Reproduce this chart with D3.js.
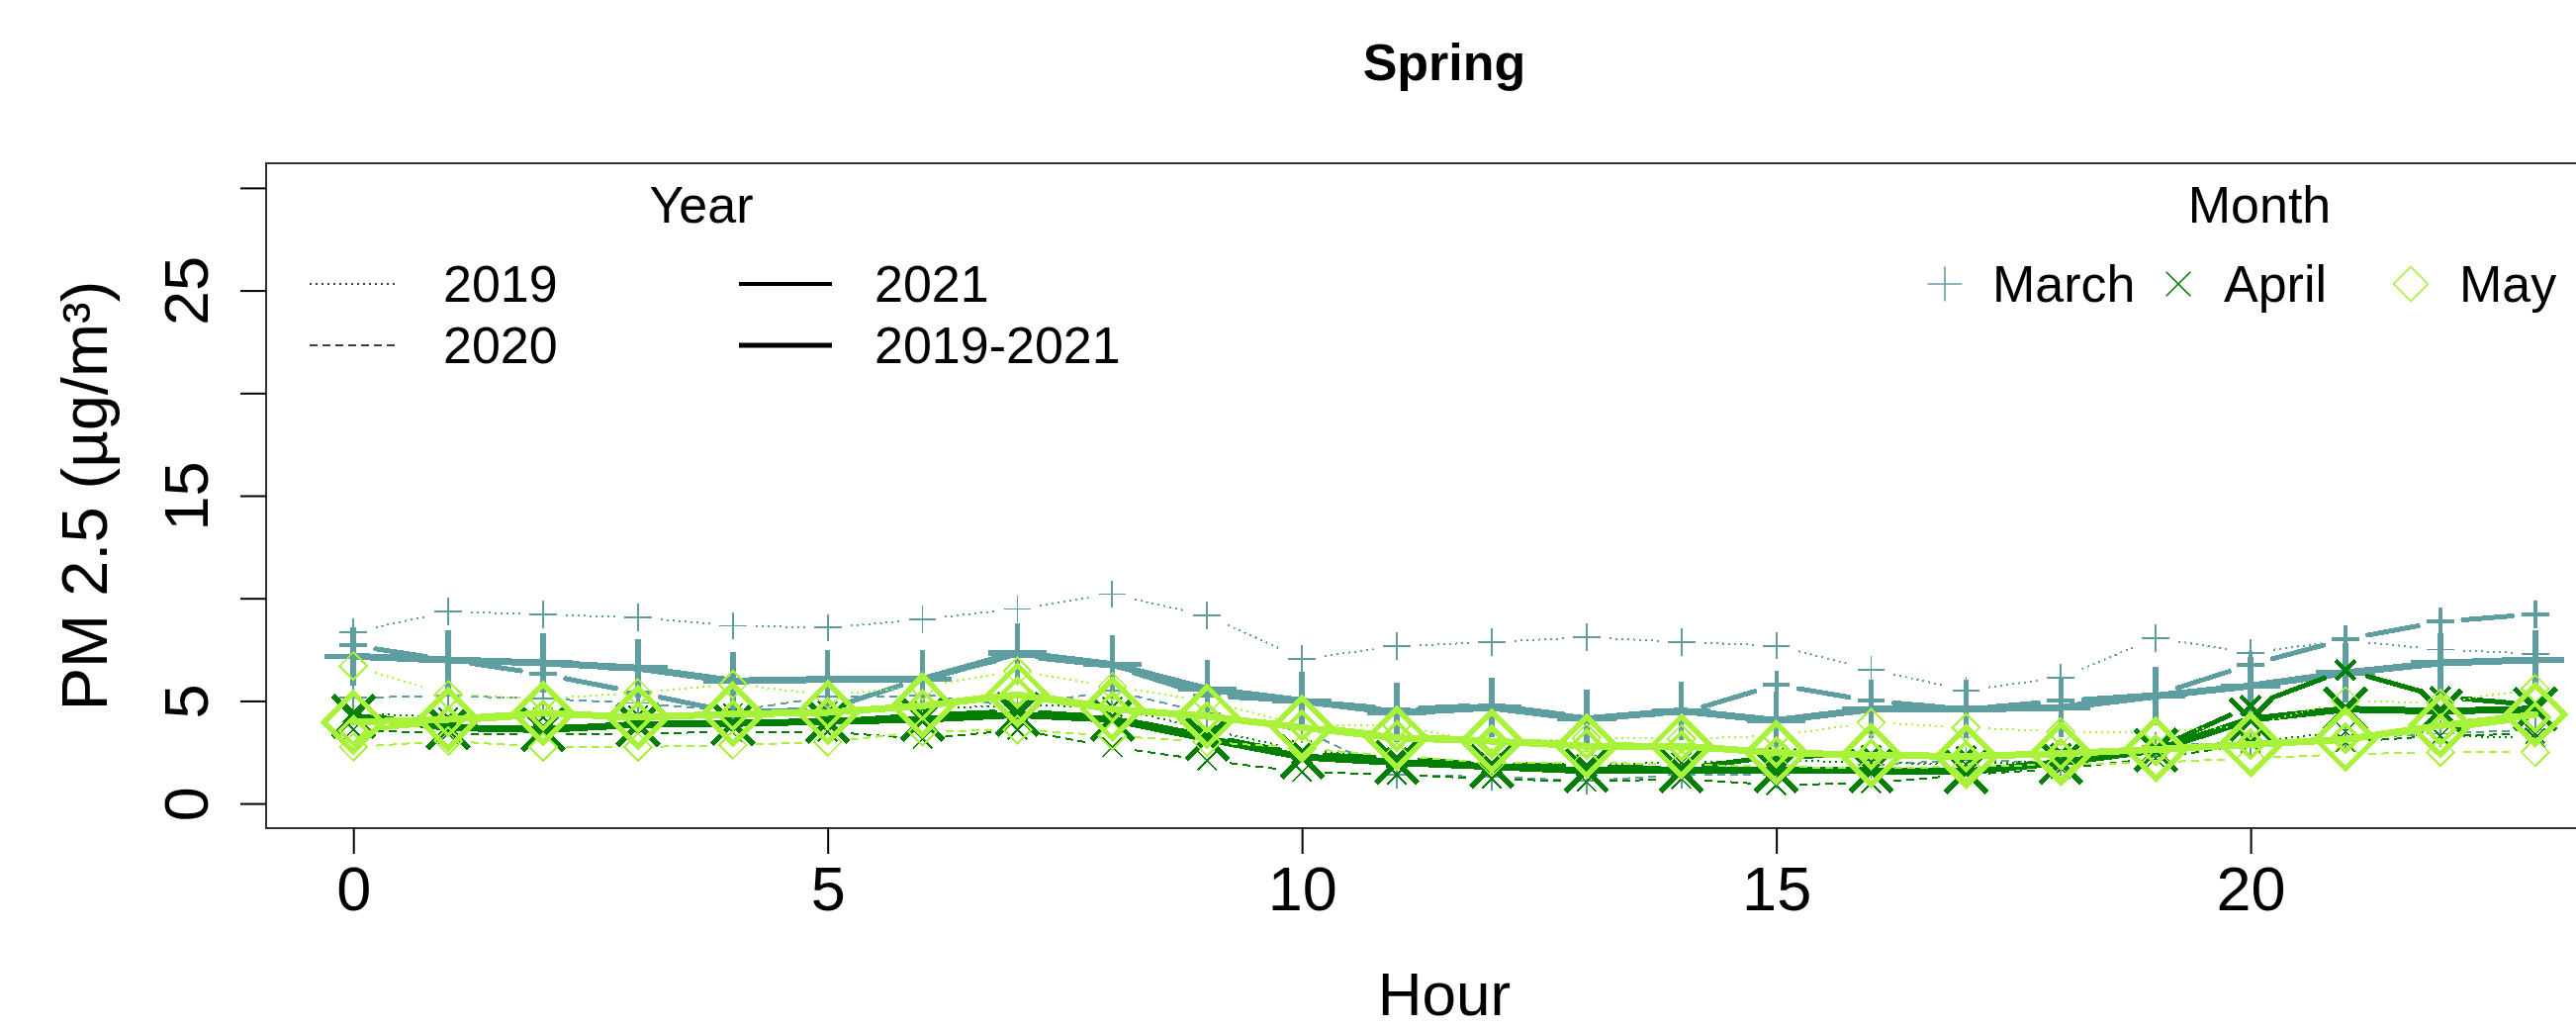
<!DOCTYPE html>
<html>
<head>
<meta charset="utf-8">
<script src="https://cdn.jsdelivr.net/npm/d3@7"></script>
<style>
  html, body { margin: 0; padding: 0; background: #fff; }
  svg { display: block; }
  text { font-family: "Liberation Sans", Arial, sans-serif; fill: #000; }
</style>
</head>
<body>
<svg id="chart" width="2604" height="1039"></svg>
<script>
// Hour of day
const hours = [0, 1, 2, 3, 4, 5, 6, 7, 8, 9, 10, 11, 12, 13, 14, 15, 16, 17, 18, 19, 20, 21, 22, 23];

// Hourly mean PM 2.5 (µg/m³), March
const march2019 = [8.35, 9.35, 9.22, 9.06, 8.66, 8.57, 8.98, 9.48, 10.2, 9.15, 7.06, 7.66, 7.87, 8.1, 7.87, 7.69, 6.53, 5.52, 6.13, 8.06, 7.35, 7.95, 7.5, 7.3];
const march2020 = [5.15, 5.25, 5.1, 4.9, 4.5, 5.2, 5.25, 4.75, 5.5, 4.4, 3.6, 1.4, 1.3, 1.1, 1.4, 1.4, 1.9, 2.1, 2.0, 2.8, 3.0, 3.2, 3.4, 3.6];
const march2021 = [7.7, 7.0, 6.3, 5.4, 4.45, 4.6, 6.1, 7.2, 6.7, 5.25, 5.0, 4.6, 4.8, 4.2, 4.4, 5.78, 5.0, 4.6, 5.0, 5.3, 6.77, 8.0, 8.86, 9.23];
const marchAll  = [7.17, 7.0, 6.85, 6.6, 5.97, 6.05, 6.05, 7.34, 6.77, 5.57, 5.0, 4.44, 4.68, 4.12, 4.52, 4.04, 4.6, 4.6, 4.68, 5.24, 5.73, 6.37, 6.85, 7.0];

// April
const april2019 = [4.4, 4.2, 4.2, 4.3, 4.4, 4.5, 4.6, 4.8, 4.7, 3.6, 2.6, 2.2, 2.0, 1.9, 2.0, 2.1, 2.0, 1.9, 2.1, 2.6, 3.0, 3.5, 3.3, 3.2];
const april2020 = [3.6, 3.4, 3.4, 3.4, 3.5, 3.5, 3.15, 3.6, 2.75, 2.1, 1.54, 1.4, 1.2, 1.06, 1.2, 0.9, 1.0, 1.4, 1.7, 2.2, 2.9, 3.0, 3.3, 3.4];
const april2021 = [4.4, 3.7, 3.7, 3.8, 3.9, 4.0, 4.3, 4.5, 4.2, 3.3, 2.4, 2.2, 1.9, 1.8, 1.7, 2.3, 2.35, 2.3, 2.43, 2.67, 4.76, 6.5, 5.2, 4.8];
const aprilAll  = [4.25, 3.7, 3.6, 3.85, 3.9, 4.0, 4.1, 4.33, 4.1, 3.15, 2.27, 2.0, 1.8, 1.6, 1.6, 1.6, 1.6, 1.55, 2.0, 2.6, 4.1, 4.6, 4.5, 4.6];

// May
const may2019 = [6.7, 5.3, 5.1, 5.4, 5.8, 5.3, 5.7, 6.45, 5.7, 5.0, 3.8, 3.8, 2.9, 3.2, 3.15, 3.3, 3.95, 3.7, 3.5, 3.5, 3.8, 5.0, 4.9, 5.6];
const may2020 = [2.75, 3.05, 2.75, 2.75, 2.85, 3.0, 3.5, 3.6, 3.3, 3.0, 2.7, 2.3, 2.0, 2.0, 1.9, 1.8, 1.7, 1.8, 1.9, 2.0, 2.2, 2.4, 2.5, 2.5];
const may2021 = [3.55, 4.0, 4.3, 4.2, 4.3, 4.4, 4.8, 5.4, 4.7, 4.2, 3.8, 3.3, 3.1, 2.9, 2.8, 2.5, 2.4, 2.3, 2.4, 2.6, 2.9, 3.2, 3.6, 4.2];
const mayAll  = [3.96, 4.1, 4.4, 4.2, 4.36, 4.44, 4.76, 5.3, 4.6, 4.25, 3.7, 3.2, 3.04, 2.8, 2.8, 2.48, 2.35, 2.3, 2.43, 2.64, 2.88, 3.12, 3.8, 4.33];

// Labels
const months = ["March", "April", "May"];
const yearLabels = ["2019", "2020", "2021", "2019-2021"];
const xTicks = [0, 5, 10, 15, 20];
const yTicks = [0, 5, 10, 15, 20, 25, 30];
const yTickLabels = ["0", "5", "", "15", "", "25", ""];

// ---- styling ----
const monthColor = { March: "#5f9ea0", April: "#007f00", May: "#a8f23a" };
const yearStyle = {
  "2019":      { dash: "2,4", lw: 2, mw: 1.8, r: 9.8, gap: 23 },
  "2020":      { dash: "8,5", lw: 2, mw: 1.8, r: 9.8, gap: 23 },
  "2021":      { dash: null,  lw: 5, mw: 4,   r: 9.8, gap: 23 },
  "2019-2021": { dash: null,  lw: 7, mw: 5.5, r: 21,  gap: 0 }
};

// Point shapes drawn as stroked outlines
const SQ2 = Math.SQRT2;
const plusSym = { draw(c, r) { const a = SQ2 * r; c.moveTo(-a, 0); c.lineTo(a, 0); c.moveTo(0, -a); c.lineTo(0, a); } };
const timesSym = { draw(c, r) { c.moveTo(-r, -r); c.lineTo(r, r); c.moveTo(-r, r); c.lineTo(r, -r); } };
const diamondSym = { draw(c, r) { const a = SQ2 * r; c.moveTo(0, -a); c.lineTo(a, 0); c.lineTo(0, a); c.lineTo(-a, 0); c.closePath(); } };
const monthSymbol = { March: plusSym, April: timesSym, May: diamondSym };

const seriesTable = [
  { month: "March", year: "2019", values: march2019 },
  { month: "March", year: "2020", values: march2020 },
  { month: "March", year: "2021", values: march2021 },
  { month: "March", year: "2019-2021", values: marchAll },
  { month: "April", year: "2019", values: april2019 },
  { month: "April", year: "2020", values: april2020 },
  { month: "April", year: "2021", values: april2021 },
  { month: "April", year: "2019-2021", values: aprilAll },
  { month: "May", year: "2019", values: may2019 },
  { month: "May", year: "2020", values: may2020 },
  { month: "May", year: "2021", values: may2021 },
  { month: "May", year: "2019-2021", values: mayAll }
];

// ---- layout ----
const svg = d3.select("#chart");
const plot = { left: 269, right: 2651, top: 165, bottom: 837 };

const x = d3.scaleLinear().domain([-0.92, 23.92]).range([plot.left, plot.right]);
const y = d3.scaleLinear().domain([-1.2, 31.2]).range([plot.bottom, plot.top]);

// Title
svg.append("text").attr("x", 1460).attr("y", 81).attr("text-anchor", "middle")
  .style("font-size", "52px").style("font-weight", "bold").text("Spring");

// Data marks
const marks = svg.append("g").attr("shape-rendering", "crispEdges");

seriesTable.forEach(s => {
  const st = yearStyle[s.year];
  const col = monthColor[s.month];
  const pts = hours.map((h, i) => [x(h), y(s.values[i])]);
  const g = marks.append("g");

  if (st.gap === 0) {
    // continuous line through the points
    g.append("path")
      .attr("d", d3.line().x(d => x(d.h)).y(d => y(d.v))(hours.map((h, i) => ({ h, v: s.values[i] }))))
      .attr("fill", "none").attr("stroke", col).attr("stroke-width", st.lw)
      .attr("stroke-linejoin", "round").attr("stroke-linecap", "round");
  } else {
    // segments leave a gap around each point
    const segs = [];
    for (let i = 0; i < pts.length - 1; i++) {
      const [x1, y1] = pts[i], [x2, y2] = pts[i + 1];
      const d = Math.hypot(x2 - x1, y2 - y1);
      if (d <= 2 * st.gap) continue;
      const ux = (x2 - x1) / d, uy = (y2 - y1) / d;
      segs.push([[x1 + ux * st.gap, y1 + uy * st.gap], [x2 - ux * st.gap, y2 - uy * st.gap]]);
    }
    g.selectAll("path.seg").data(segs).join("path")
      .attr("class", "seg")
      .attr("d", d => d3.line()(d))
      .attr("fill", "none").attr("stroke", col).attr("stroke-width", st.lw)
      .attr("stroke-dasharray", st.dash)
      .attr("stroke-linecap", st.dash ? "butt" : "round");
  }

  const sym = d3.symbol().type(monthSymbol[s.month]).size(st.r);
  g.selectAll("path.pt").data(pts).join("path")
    .attr("class", "pt")
    .attr("transform", d => `translate(${d[0]},${d[1]})`)
    .attr("d", sym())
    .attr("fill", "none").attr("stroke", col).attr("stroke-width", st.mw);
});

// Box
svg.append("rect").attr("x", plot.left).attr("y", plot.top)
  .attr("width", plot.right - plot.left).attr("height", plot.bottom - plot.top)
  .attr("fill", "none").attr("stroke", "#333").attr("stroke-width", 2);

// X axis
const xAxis = d3.axisBottom(x).tickValues(xTicks).tickSize(26).tickPadding(12).tickFormat(d3.format("d"));
const gx = svg.append("g").attr("transform", `translate(0,${plot.bottom})`).call(xAxis);
gx.select(".domain").remove();
gx.selectAll(".tick line").attr("stroke", "#000").attr("stroke-width", 2);
gx.selectAll(".tick text").style("font-size", "63px").attr("fill", "#000")
  .attr("font-family", "Liberation Sans, Arial, sans-serif");

// Y axis
const yAxis = d3.axisLeft(y).tickValues(yTicks).tickSize(26).tickFormat((d, i) => yTickLabels[i]);
const gy = svg.append("g").attr("transform", `translate(${plot.left},0)`).call(yAxis);
gy.select(".domain").remove();
gy.selectAll(".tick line").attr("stroke", "#000").attr("stroke-width", 2);
gy.selectAll(".tick text")
  .attr("x", null).attr("dy", null)
  .attr("transform", "translate(-59,0) rotate(-90)")
  .attr("text-anchor", "middle")
  .style("font-size", "63px").attr("fill", "#000")
  .attr("font-family", "Liberation Sans, Arial, sans-serif");

// Axis titles
svg.append("text").attr("x", 1460).attr("y", 1026).attr("text-anchor", "middle")
  .style("font-size", "62px").text("Hour");
svg.append("text").attr("transform", "translate(108,501) rotate(-90)").attr("text-anchor", "middle")
  .style("font-size", "65px").text("PM 2.5 (µg/m³)");

// Year legend
const legFont = "52px";
svg.append("text").attr("x", 709).attr("y", 225).attr("text-anchor", "middle").style("font-size", legFont).text("Year");
const yearLeg = [
  { label: yearLabels[0], x1: 313, x2: 402, tx: 448, cy: 287 },
  { label: yearLabels[1], x1: 313, x2: 402, tx: 448, cy: 349 },
  { label: yearLabels[2], x1: 747, x2: 841, tx: 884, cy: 287 },
  { label: yearLabels[3], x1: 747, x2: 841, tx: 884, cy: 349 }
];
const legLw = { "2019": 1.5, "2020": 1.5, "2021": 4, "2019-2021": 5 };
yearLeg.forEach(l => {
  const st = yearStyle[l.label];
  svg.append("line").attr("x1", l.x1).attr("x2", l.x2).attr("y1", l.cy).attr("y2", l.cy)
    .attr("stroke", "#000").attr("stroke-width", legLw[l.label])
    .attr("stroke-dasharray", st.dash ? (l.label === "2019" ? "2,4" : "8,5") : null);
  svg.append("text").attr("x", l.tx).attr("y", l.cy + 18).style("font-size", legFont).text(l.label);
});

// Month legend
svg.append("text").attr("x", 2284).attr("y", 225).attr("text-anchor", "middle").style("font-size", legFont).text("Month");
const monthLeg = [
  { m: months[0], sx: 1966, tx: 2014 },
  { m: months[1], sx: 2202, tx: 2248 },
  { m: months[2], sx: 2437, tx: 2486 }
];
monthLeg.forEach(l => {
  svg.append("path").attr("transform", `translate(${l.sx},287)`)
    .attr("d", d3.symbol().type(monthSymbol[l.m]).size(12.3)())
    .attr("fill", "none").attr("stroke", monthColor[l.m]).attr("stroke-width", 1.6);
  svg.append("text").attr("x", l.tx).attr("y", 305).style("font-size", legFont).text(l.m);
});
</script>
</body>
</html>
